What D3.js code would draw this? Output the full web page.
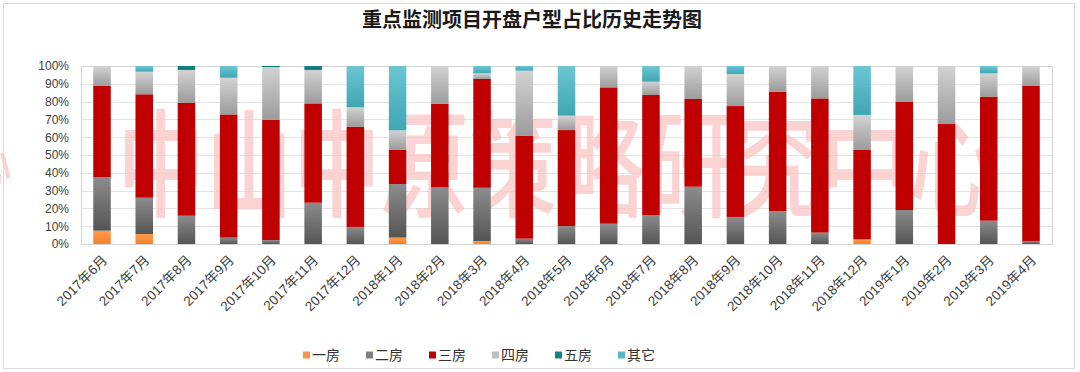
<!DOCTYPE html>
<html>
<head>
  <meta charset="utf-8">
  <title>重点监测项目开盘户型占比历史走势图</title>
  <style>
    body { margin: 0; background: #fff; }
    svg { display: block; font-family: "Liberation Sans", Arial, "Noto Sans CJK SC", sans-serif; }
  </style>
</head>
<body>
  <svg width="1080" height="372"></svg>
  <script src="https://d3js.org/d3.v7.min.js"></script>
  <script>
    // data (percent of launches per unit type)
    var months = ["2017年6月", "2017年7月", "2017年8月", "2017年9月", "2017年10月", "2017年11月", "2017年12月",
      "2018年1月", "2018年2月", "2018年3月", "2018年4月", "2018年5月", "2018年6月", "2018年7月", "2018年8月",
      "2018年9月", "2018年10月", "2018年11月", "2018年12月", "2019年1月", "2019年2月", "2019年3月", "2019年4月"];
    var types = ["一房", "二房", "三房", "四房", "五房", "其它"];
    var oneRoom   = [7.5, 5.6, 0, 0, 0, 0, 0, 3.6, 0, 1.7, 0, 0, 0, 0, 0, 0, 0, 0, 2.6, 0, 0, 0, 0];
    var twoRoom   = [30, 20.4, 15.9, 3.6, 2.2, 23.2, 9.6, 30.1, 31.8, 29.9, 3.0, 10.1, 11.4, 16.3, 32.2, 15.2, 18.5, 6.4, 0, 19.1, 0, 13.1, 1.7];
    var threeRoom = [51.5, 58.1, 63.5, 69.2, 67.5, 55.8, 56.3, 19.3, 46.9, 61.1, 57.7, 53.9, 76.6, 67.4, 49.3, 62.3, 67.1, 75.4, 50.2, 60.9, 67.4, 69.7, 87.1];
    var fourRoom  = [11, 12.7, 18.4, 20.6, 29.7, 18.8, 10.9, 10.9, 21.3, 3.2, 36.7, 8.1, 12, 7.5, 18.5, 18.0, 14.4, 18.2, 19.7, 20.0, 32.6, 13.1, 11.2];
    var fiveRoom  = [0, 0, 2.2, 0, 0.6, 2.2, 0, 0, 0, 0, 0, 0, 0, 0, 0, 0, 0, 0, 0, 0, 0, 0, 0];
    var others    = [0, 3.2, 0, 6.6, 0, 0, 23.2, 36.1, 0, 4.1, 2.6, 27.9, 0, 8.8, 0, 4.5, 0, 0, 27.5, 0, 0, 4.1, 0];
    var yTicks = [0, 0.1, 0.2, 0.3, 0.4, 0.5, 0.6, 0.7, 0.8, 0.9, 1];

    var series = [oneRoom, twoRoom, threeRoom, fourRoom, fiveRoom, others];
    var rows = months.map(function (m, i) {
      var r = { month: m };
      types.forEach(function (t, k) { r[t] = series[k][i]; });
      return r;
    });

    // colours: [top, bottom] of each segment's gradient, plus legend swatch
    var colors = {
      "一房": ["#ff9a4a", "#f5822a", "#f79646"],
      "二房": ["#8c8c8c", "#555555", "#7f7f7f"],
      "三房": ["#c00000", "#c00000", "#c00000"],
      "四房": ["#d2d2d2", "#9c9c9c", "#bfbfbf"],
      "五房": ["#138383", "#0b7575", "#138383"],
      "其它": ["#6cc6d2", "#3fa6b4", "#5ab8c6"]
    };

    var svg = d3.select("svg");
    var margin = { left: 81, right: 1052, top: 66, bottom: 244 };

    // outer frame
    svg.append("rect").attr("x", 3.5).attr("y", 3.5).attr("width", 1071).attr("height", 365)
      .attr("fill", "#fff").attr("stroke", "#d9d9d9");

    svg.append("text").attr("x", 532).attr("y", 27).attr("text-anchor", "middle")
      .attr("font-family", "'Noto Sans CJK SC', sans-serif").attr("font-weight", "bold")
      .attr("font-size", 20).attr("fill", "#1a1a1a").text("重点监测项目开盘户型占比历史走势图");

    var x = d3.scaleBand().domain(months).range([margin.left, margin.right]).paddingInner(0.585).paddingOuter(0.29);
    var y = d3.scaleLinear().domain([0, 1]).range([margin.bottom, margin.top]);

    // gradients
    var defs = svg.append("defs");
    types.forEach(function (t, k) {
      var g = defs.append("linearGradient").attr("id", "g" + k)
        .attr("x1", 0).attr("y1", 0).attr("x2", 0).attr("y2", 1);
      g.append("stop").attr("offset", "0%").attr("stop-color", colors[t][0]);
      g.append("stop").attr("offset", "100%").attr("stop-color", colors[t][1]);
    });

    // grid
    svg.append("g").selectAll("line").data(yTicks).enter().append("line")
      .attr("x1", margin.left).attr("x2", margin.right)
      .attr("y1", function (d) { return Math.round(y(d)) + 0.5; })
      .attr("y2", function (d) { return Math.round(y(d)) + 0.5; })
      .attr("stroke", "#e3e3e3");

    // watermark
    svg.append("text").attr("transform", "translate(557,208) scale(1,1.33)").attr("text-anchor", "middle")
      .attr("font-family", "'Noto Sans CJK SC', sans-serif").attr("font-size", 88).attr("font-weight", 500)
      .attr("fill", "#f9c4c4").attr("fill-opacity", 0.75).text("中山中原策略研究中心");
    svg.append("text").attr("transform", "translate(12,186) scale(1,1.33)").attr("text-anchor", "end")
      .attr("font-family", "'Noto Sans CJK SC', sans-serif").attr("font-size", 50)
      .attr("fill", "#f9c4c4").attr("fill-opacity", 0.75).text("心");

    // plot border
    svg.append("rect").attr("x", margin.left + 0.5).attr("y", margin.top + 0.5)
      .attr("width", margin.right - margin.left).attr("height", margin.bottom - margin.top)
      .attr("fill", "none").attr("stroke", "#d4d4d4");

    // stacked bars
    var stacked = d3.stack().keys(types).offset(d3.stackOffsetExpand)(rows);
    svg.append("g").selectAll("g").data(stacked).enter().append("g")
      .attr("fill", function (d, k) { return "url(#g" + k + ")"; })
      .selectAll("rect").data(function (d) { return d; }).enter().append("rect")
      .attr("x", function (d) { return x(d.data.month); })
      .attr("width", x.bandwidth())
      .attr("y", function (d) { return y(d[1]); })
      .attr("height", function (d) { return y(d[0]) - y(d[1]); });

    // y axis
    var yAxis = svg.append("g").attr("transform", "translate(" + (margin.left - 12) + ",0)")
      .call(d3.axisLeft(y).tickValues(yTicks).tickFormat(d3.format(".0%")).tickSize(0).tickPadding(0));
    yAxis.select(".domain").remove();
    yAxis.selectAll("text").attr("font-size", 12).attr("fill", "#404040")
      .attr("font-family", "'Liberation Sans', Arial, sans-serif");

    // x axis
    var xAxis = svg.append("g").attr("transform", "translate(0," + margin.bottom + ")")
      .call(d3.axisBottom(x).tickSize(0).tickPadding(0));
    xAxis.select(".domain").remove();
    xAxis.selectAll("text")
      .attr("font-size", 13.5).attr("fill", "#404040")
      .attr("font-family", "'Liberation Sans', Arial, 'Noto Sans CJK SC', sans-serif")
      .attr("text-anchor", "end")
      .attr("dy", 0)
      .attr("transform", "translate(6,17) rotate(-45)");

    // legend
    var legend = svg.append("g").selectAll("g").data(types).enter().append("g")
      .attr("transform", function (d, i) { return "translate(" + (303 + i * 63) + ",355)"; });
    legend.append("rect").attr("x", 0).attr("y", -3.5).attr("width", 7).attr("height", 7)
      .attr("fill", function (d) { return colors[d][2]; });
    legend.append("text").attr("x", 9).attr("y", 5).attr("font-size", 14)
      .attr("font-family", "'Noto Sans CJK SC', sans-serif").attr("fill", "#333").text(function (d) { return d; });
  </script>
</body>
</html>
